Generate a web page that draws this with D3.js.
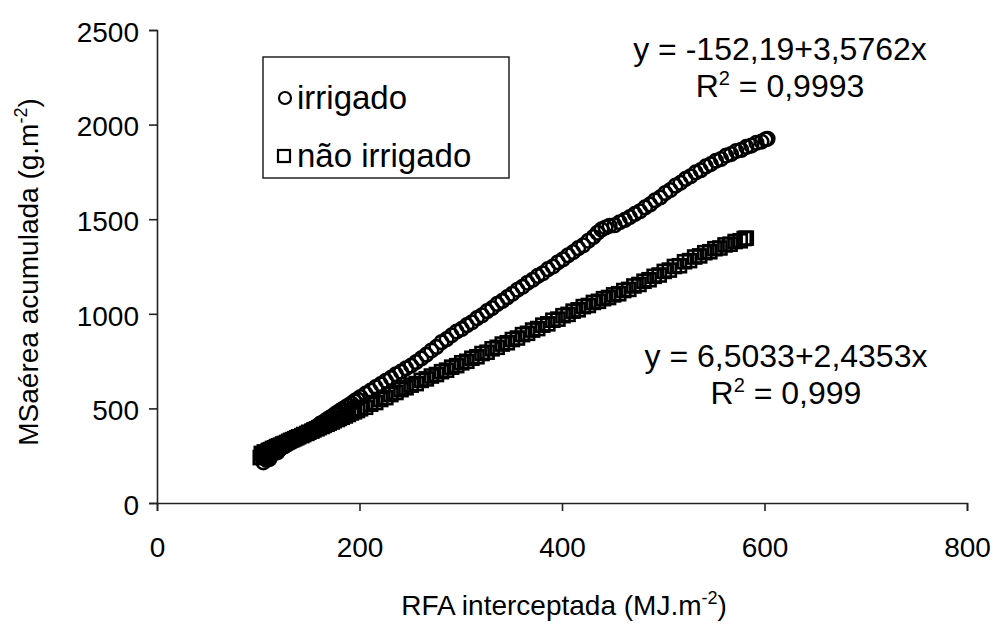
<!DOCTYPE html>
<html><head><meta charset="utf-8">
<script src="https://cdn.jsdelivr.net/npm/d3@7"></script>
<style>
html,body{margin:0;padding:0;background:#fff;}
text{font-family:"Liberation Sans",Arial,sans-serif;fill:#000;}
</style></head>
<body><svg id="c" width="995" height="630"></svg>
<script>
// ---- data ----
const irrigadoX = [105,106,108,110,111,113,115,117,119,121,123,125,127,129,131,133,135,137,139,141,143,146,148,151,153,156,158,161,163,166,168,171,173,176,178,181,183,186,189,192,195,198,201,206,211,216,221,226,231,236,241,246,251,256,261,266,271,276,281,286,291,296,301,306,311,316,321,326,331,336,341,346,351,356,361,366,371,376,381,386,391,396,401,406,411,416,421,426,431,435,439,443,447,452,457,462,467,472,477,482,487,492,497,502,507,512,517,522,527,532,537,542,547,552,557,562,567,572,577,582,587,592,597,601,603];
const irrigadoY = [215,240,228,250,232,258,262,272,268,285,290,298,302,312,318,322,332,338,345,350,356,365,372,382,390,398,405,418,424,434,442,452,458,470,478,488,495,505,515,526,538,548,560,578,594,612,628,646,661,680,694,712,726,745,764,784,806,825,850,866,886,906,920,940,955,977,992,1014,1030,1052,1068,1088,1106,1127,1143,1164,1180,1200,1214,1236,1250,1272,1288,1309,1326,1347,1362,1386,1406,1428,1446,1456,1465,1468,1484,1496,1511,1528,1542,1562,1578,1600,1615,1638,1654,1677,1692,1713,1727,1747,1759,1779,1791,1809,1818,1836,1844,1860,1866,1882,1889,1904,1910,1922,1925];
const naoIrrigadoX = [102,103,105,106,108,110,112,114,116,118,120,122,124,126,128,130,132,134,136,138,140,143,145,148,150,153,155,158,160,163,165,168,170,173,175,178,180,183,186,189,192,195,198,201,206,211,216,221,226,231,236,241,246,251,256,261,266,271,276,281,286,291,296,301,306,311,316,321,326,331,336,341,346,351,356,361,366,371,376,381,386,391,396,401,406,411,416,421,426,431,436,441,446,451,456,461,466,471,476,481,486,491,496,501,506,511,516,521,526,531,536,541,546,551,556,561,566,571,576,580,582];
const naoIrrigadoY = [240,262,250,270,262,278,282,288,292,298,302,306,312,315,320,326,331,335,340,345,350,356,362,368,374,380,386,392,398,404,410,416,422,428,435,441,447,453,460,468,476,482,489,498,506,522,531,547,557,573,584,599,609,623,631,648,656,671,679,694,702,718,726,741,749,765,773,790,797,815,823,840,847,864,872,890,897,914,922,940,947,966,972,990,997,1014,1021,1038,1044,1060,1066,1080,1086,1100,1106,1123,1129,1147,1155,1172,1180,1198,1205,1224,1231,1250,1254,1275,1281,1300,1306,1323,1328,1344,1348,1364,1368,1382,1386,1398,1400];
const xTicks = [0,200,400,600,800];
const yTicks = [0,500,1000,1500,2000,2500];
const seriesNames = ["irrigado","não irrigado"];
const eq1 = ["y = -152,19+3,5762x", "0,9993"];
const eq2 = ["y = 6,5033+2,4353x", "0,999"];

// ---- drawing ----
const svg = d3.select("#c");
const x = d3.scaleLinear().domain([0,800]).range([157,967]);
const y = d3.scaleLinear().domain([0,2500]).range([503,30]);
const TFS = 28, EFS = 32, LFS = 33;

const xa = svg.append("g").attr("transform","translate(0,503)")
  .call(d3.axisBottom(x).tickValues(xTicks).tickFormat(d3.format("d")).tickSize(8).tickSizeOuter(8).tickPadding(26));
const ya = svg.append("g").attr("transform","translate(157,0)")
  .call(d3.axisLeft(y).tickValues(yTicks).tickFormat(d3.format("d")).tickSize(8).tickSizeOuter(8).tickPadding(10));
[xa,ya].forEach(a=>{
  a.selectAll("path,line").attr("stroke","#222").attr("stroke-width",1.6);
  a.selectAll("text").style("font-size",TFS+"px").style("font-family","'Liberation Sans',Arial,sans-serif").attr("fill","#000");
});
ya.selectAll("text").attr("dy","0.4em");

// points
const ms = 2.6;
svg.append("g").selectAll("rect").data(naoIrrigadoX.map((d,i)=>[d,naoIrrigadoY[i]]))
  .join("rect").attr("x",d=>x(d[0])-6.5).attr("y",d=>y(d[1])-6.5).attr("width",13).attr("height",13)
  .attr("fill","none").attr("stroke","#000").attr("stroke-width",ms);
svg.append("g").selectAll("circle").data(irrigadoX.map((d,i)=>[d,irrigadoY[i]]))
  .join("circle").attr("cx",d=>x(d[0])).attr("cy",d=>y(d[1])).attr("r",6.8)
  .attr("fill","none").attr("stroke","#000").attr("stroke-width",ms);

// legend
const lg = svg.append("g");
lg.append("rect").attr("x",263).attr("y",57).attr("width",246).attr("height",121)
  .attr("fill","none").attr("stroke","#222").attr("stroke-width",1.5);
lg.append("circle").attr("cx",285).attr("cy",98).attr("r",6).attr("fill","none").attr("stroke","#000").attr("stroke-width",2.2);
lg.append("rect").attr("x",278).attr("y",150).attr("width",12).attr("height",12).attr("fill","none").attr("stroke","#000").attr("stroke-width",2.2);
lg.append("text").attr("x",297).attr("y",109).style("font-size",LFS+"px").text(seriesNames[0]);
lg.append("text").attr("x",297).attr("y",167).style("font-size",LFS+"px").text(seriesNames[1]);

// equations
function eq(cx, y1, e){
  svg.append("text").attr("x",cx).attr("y",y1).attr("text-anchor","middle").style("font-size",EFS+"px").text(e[0]);
  const t = svg.append("text").attr("x",cx).attr("y",y1+37).attr("text-anchor","middle").style("font-size",EFS+"px");
  t.append("tspan").text("R");
  t.append("tspan").attr("dy",-12).style("font-size","20px").text("2");
  t.append("tspan").attr("dy",12).text(" = "+e[1]);
}
eq(780, 60, eq1);
eq(786, 367, eq2);

// axis titles
const xt = svg.append("text").attr("x",564).attr("y",615).attr("text-anchor","middle").style("font-size",TFS+"px");
xt.append("tspan").text("RFA interceptada (MJ.m");
xt.append("tspan").attr("dy",-11).style("font-size","18px").text("-2");
xt.append("tspan").attr("dy",11).text(")");
const yt = svg.append("text").attr("transform","translate(38,272) rotate(-90)").attr("text-anchor","middle").style("font-size",TFS+"px");
yt.append("tspan").text("MSaérea acumulada (g.m");
yt.append("tspan").attr("dy",-11).style("font-size","18px").text("-2");
yt.append("tspan").attr("dy",11).text(")");
</script></body></html>
